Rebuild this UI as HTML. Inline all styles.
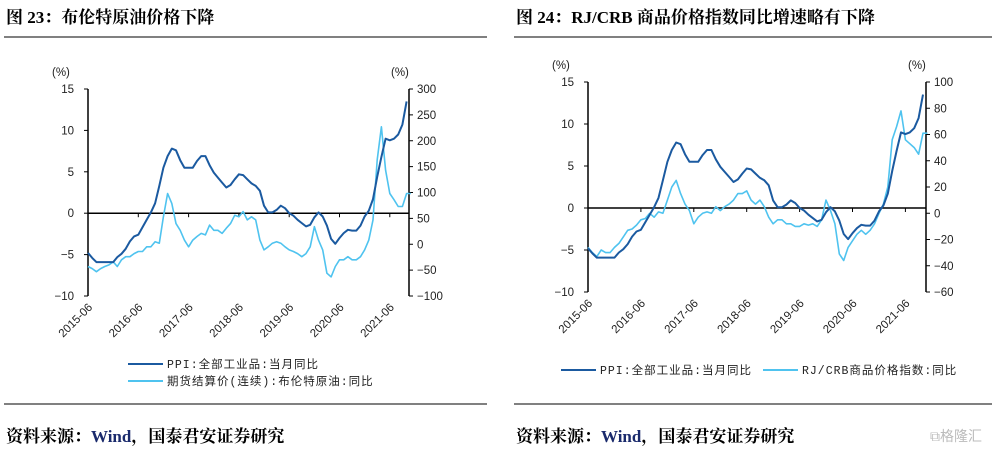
<!DOCTYPE html>
<html><head><meta charset="utf-8"><style>
body{margin:0;background:#fff;width:1001px;height:452px;overflow:hidden}
svg{display:block}
.t{font-family:"Liberation Serif","Noto Serif CJK SC",serif;font-weight:bold;font-size:17px;fill:#000}
.ax{font-family:"Liberation Sans","Noto Sans CJK SC",sans-serif;font-size:11.5px;fill:#222}
.lg{font-family:"Liberation Mono","Noto Sans CJK SC",monospace;font-size:11.5px;fill:#222;letter-spacing:1px}
</style></head><body>
<svg id="s" width="1001" height="452">
<text class="t" x="6" y="23">图 23：布伦特原油价格下降</text>
<line x1="4" y1="37" x2="487" y2="37" stroke="#000" stroke-width="1"/>
<text class="t" x="516" y="23">图 24：RJ/CRB 商品价格指数同比增速略有下降</text>
<line x1="514" y1="37" x2="992" y2="37" stroke="#000" stroke-width="1"/>
<line x1="4" y1="404" x2="487" y2="404" stroke="#000" stroke-width="1"/>
<line x1="514" y1="404" x2="992" y2="404" stroke="#000" stroke-width="1"/>
<text class="t" x="6" y="442">资料来源：<tspan fill="#1a2a6c">Wind</tspan>，国泰君安证券研究</text>
<text class="t" x="516" y="442">资料来源：<tspan fill="#1a2a6c">Wind</tspan>，国泰君安证券研究</text>
<text x="930" y="441" font-family="Liberation Sans,Noto Sans CJK SC,sans-serif" font-size="14" fill="#bbb">⧉格隆汇</text>
</svg>
<script>
const months = 77; // 2015-06 .. 2021-10
const ppi = [-4.8,-5.4,-5.9,-5.9,-5.9,-5.9,-5.9,
-5.3,-4.9,-4.3,-3.4,-2.8,-2.6,-1.7,-0.8,0.1,1.2,3.3,5.5,
6.9,7.8,7.6,6.4,5.5,5.5,5.5,6.3,6.9,6.9,5.8,4.9,
4.3,3.7,3.1,3.4,4.1,4.7,4.6,4.1,3.6,3.3,2.7,0.9,
0.1,0.1,0.4,0.9,0.6,0.0,-0.3,-0.8,-1.2,-1.6,-1.4,-0.5,
0.1,-0.4,-1.5,-3.1,-3.7,-3.0,-2.4,-2.0,-2.1,-2.1,-1.5,-0.4,
0.3,1.7,4.4,6.8,9.0,8.8,9.0,9.5,10.7,13.5];
const brent = [-43,-47,-53,-47,-43,-40,-34,
-43,-30,-24,-24,-18,-14,-14,-5,-5,5,2,53,
98,79,40,27,8,-5,8,15,21,18,37,27,
27,21,31,40,56,53,63,47,53,47,8,-11,
-5,2,5,2,-5,-11,-14,-18,-24,-18,-5,34,
8,-11,-56,-63,-43,-30,-30,-24,-30,-30,-24,-11,
8,47,163,227,143,98,86,73,73,98,98];
const crb = [-26,-30,-33,-28,-30,-30,-26,
-23,-18,-13,-12,-9,-5,-4,0,-3,1,0,10,
20,25,15,7,2,-8,-3,0,1,0,5,2,
5,7,10,15,15,17,10,7,10,5,-3,-8,
-5,-5,-8,-8,-10,-10,-8,-9,-8,-10,-5,10,
2,-8,-31,-36,-26,-21,-16,-13,-16,-13,-8,0,
7,20,56,66,78,56,53,50,45,61,61];
const xTicks = ["2015-06","2016-06","2017-06","2018-06","2019-06","2020-06","2021-06"];
const leftTicks = [15,10,5,0,-5,-10];
const rTicks1 = [300,250,200,150,100,50,0,-50,-100];
const rTicks2 = [100,80,60,40,20,0,-20,-40,-60];

const svg=document.getElementById('s');
const NS='http://www.w3.org/2000/svg';
function mk(tag,attrs,txt){const e=document.createElementNS(NS,tag);for(const k in attrs)e.setAttribute(k,attrs[k]);if(txt!==undefined)e.textContent=txt;svg.appendChild(e);return e;}

function chart(p){
  const x=i=>p.x0+i*p.mw;
  const yl=v=>p.yTop+(15-v)/25*(p.yBot-p.yTop);
  const yr=v=>p.yTop+(p.rMax-v)/(p.rMax-p.rMin)*(p.yBot-p.yTop);
  let e;
  e=mk('line',{x1:p.x0,y1:p.yTop,x2:p.x0,y2:p.yBot,stroke:'#000','stroke-width':1.5});
  
  
  e=mk('line',{x1:p.xR,y1:p.yTop,x2:p.xR,y2:p.yBot,stroke:'#000','stroke-width':1.5});
  
  
  leftTicks.forEach(v=>{
    e=mk('line',{x1:p.x0-4,y1:yl(v),x2:p.x0,y2:yl(v),stroke:'#000'});
    
    
    e=mk('text',{class:'ax',x:p.x0-14,y:yl(v)+4,'text-anchor':'end'},String(v).replace('-','−'));
    
    
  });
  p.rt.forEach(v=>{
    e=mk('line',{x1:p.xR,y1:yr(v),x2:p.xR+4,y2:yr(v),stroke:'#000'});
    
    
    e=mk('text',{class:'ax',x:p.xR+8,y:yr(v)+4},String(v).replace('-','−'));
    
    
  });
  e=mk('text',{class:'ax',x:p.x0-36,y:p.yTop-13},'(%)');
  
  
  e=mk('text',{class:'ax',x:p.xR-18,y:p.yTop-13},'(%)');
  
  
  e=mk('line',{x1:p.x0,y1:yl(0),x2:p.xR,y2:yl(0),stroke:'#000','stroke-width':1.5});
  
  
  xTicks.forEach((t,i)=>{
    const xx=x(i*12);
    e=mk('line',{x1:xx,y1:yl(0),x2:xx,y2:yl(0)+4,stroke:'#000'});
    
    
    e=mk('text',{class:'ax',x:xx+5,y:p.yBot+12,'text-anchor':'end',transform:`rotate(-45 ${xx+5} ${p.yBot+12})`},t);
    
    
  });
  const pts2=p.s2.map((v,i)=>x(i).toFixed(1)+','+yr(v).toFixed(1)).join(' ');
  e=mk('polyline',{points:pts2,fill:'none',stroke:'#4fc3ef','stroke-width':1.6,'stroke-linejoin':'round'});
  
  
  const pts1=ppi.map((v,i)=>x(i).toFixed(1)+','+yl(v).toFixed(1)).join(' ');
  e=mk('polyline',{points:pts1,fill:'none',stroke:'#1b5aa0','stroke-width':2,'stroke-linejoin':'round'});
  
  
  p.legend.forEach(l=>{
    e=mk('line',{x1:l.x,y1:l.y,x2:l.x+35,y2:l.y,stroke:l.c,'stroke-width':2});
    
    
    e=mk('text',{class:'lg',x:l.x+39,y:l.y+4},l.t);
    
    
  });
}
chart({id:'left',x0:88,xR:409,mw:50.3/12,yTop:89,yBot:296,rMax:300,rMin:-100,rt:rTicks1,s2:brent,
  legend:[{x:128,y:364,c:'#1b5aa0',t:'PPI:全部工业品:当月同比'},{x:128,y:381,c:'#4fc3ef',t:'期货结算价(连续):布伦特原油:同比'}]});
chart({id:'right',x0:588,xR:926,mw:52.9/12,yTop:82,yBot:292,rMax:100,rMin:-60,rt:rTicks2,s2:crb,
  legend:[{x:561,y:370,c:'#1b5aa0',t:'PPI:全部工业品:当月同比'},{x:763,y:370,c:'#4fc3ef',t:'RJ/CRB商品价格指数:同比'}]});
</script>
</body></html>
